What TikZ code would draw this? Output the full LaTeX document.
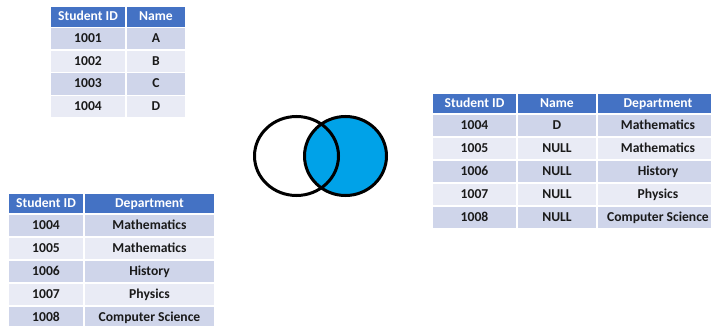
\documentclass[tikz,border=0pt]{standalone}
\usepackage{fontspec}
\setmainfont{Carlito}
\usetikzlibrary{shapes.geometric}
\definecolor{hdr}{HTML}{4472C4}
\definecolor{rowodd}{HTML}{CFD5EA}
\definecolor{roweven}{HTML}{E9EBF5}
\definecolor{vennblue}{HTML}{00A2E8}
\definecolor{txt}{HTML}{1A1A1A}
\tikzset{
  cell/.style={draw=white, line width=1.4pt, inner sep=0pt, anchor=center,
    font=\fontsize{13.6}{15}\selectfont\bfseries, text=txt,
    text height=0.88em, text depth=0.12em},
  hcell/.style={cell, fill=hdr, text=white},
  ocell/.style={cell, fill=rowodd},
  ecell/.style={cell, fill=roweven},
  sz/.style 2 args={minimum width=#1, minimum height=#2},
  vennring/.style={ellipse, draw=black, line width=3pt, inner sep=0pt}
}
\begin{document}
\begin{tikzpicture}[x=1pt,y=-1pt]
\useasboundingbox (0,0) rectangle (711,326);
\clip (0,0) rectangle (711,326);
% ---------- Table 1 ----------
\node[hcell, sz={76}{21.5}] (t1h1) at (88,16.75) {Student ID};
\node[hcell, sz={60}{21.5}] (t1h2) at (156,16.75) {Name};
\foreach \i/\a/\b in {1/1001/A,2/1002/B,3/1003/C,4/1004/D}{
  \pgfmathsetmacro{\yy}{27.5+22.6*(\i-0.5)}
  \ifodd\i \def\st{ocell}\else\def\st{ecell}\fi
  \node[\st, sz={76}{22.6}] (t1r\i c1) at (88,\yy) {\a};
  \node[\st, sz={60}{22.6}] (t1r\i c2) at (156,\yy) {\b};
}
% ---------- Table 2 ----------
\node[hcell, sz={76}{21}] (t2h1) at (46,203.5) {Student ID};
\node[hcell, sz={131}{21}] (t2h2) at (149.5,203.5) {Department};
\foreach \i/\a/\b in {1/1004/Mathematics,2/1005/Mathematics,3/1006/History,4/1007/Physics,5/1008/Computer Science}{
  \pgfmathsetmacro{\yy}{214+23*(\i-0.5)}
  \ifodd\i \def\st{ocell}\else\def\st{ecell}\fi
  \node[\st, sz={76}{23}] (t2r\i c1) at (46,\yy) {\a};
  \node[\st, sz={131}{23}] (t2r\i c2) at (149.5,\yy) {\b};
}
% ---------- Table 3 ----------
\node[hcell, sz={85}{21}] (t3h1) at (474.5,103.5) {Student ID};
\node[hcell, sz={80}{21}] (t3h2) at (557,103.5) {Name};
\node[hcell, sz={122}{21}] (t3h3) at (658,103.5) {Department};
\foreach \i/\a/\b/\c in {1/1004/D/Mathematics,2/1005/NULL/Mathematics,3/1006/NULL/History,4/1007/NULL/Physics,5/1008/NULL/Computer Science}{
  \pgfmathsetmacro{\yy}{114+23*(\i-0.5)}
  \ifodd\i \def\st{ocell}\else\def\st{ecell}\fi
  \node[\st, sz={85}{23}] (t3r\i c1) at (474.5,\yy) {\a};
  \node[\st, sz={80}{23}] (t3r\i c2) at (557,\yy) {\b};
  \node[\st, sz={122}{23}] (t3r\i c3) at (658,\yy) {\c};
}
% ---------- Venn ----------
\node[vennring, fill=vennblue, minimum width=82, minimum height=79] (rc) at (345.5,156) {};
\node[vennring, minimum width=84, minimum height=79] (lc) at (296.5,156) {};
\end{tikzpicture}
\end{document}
